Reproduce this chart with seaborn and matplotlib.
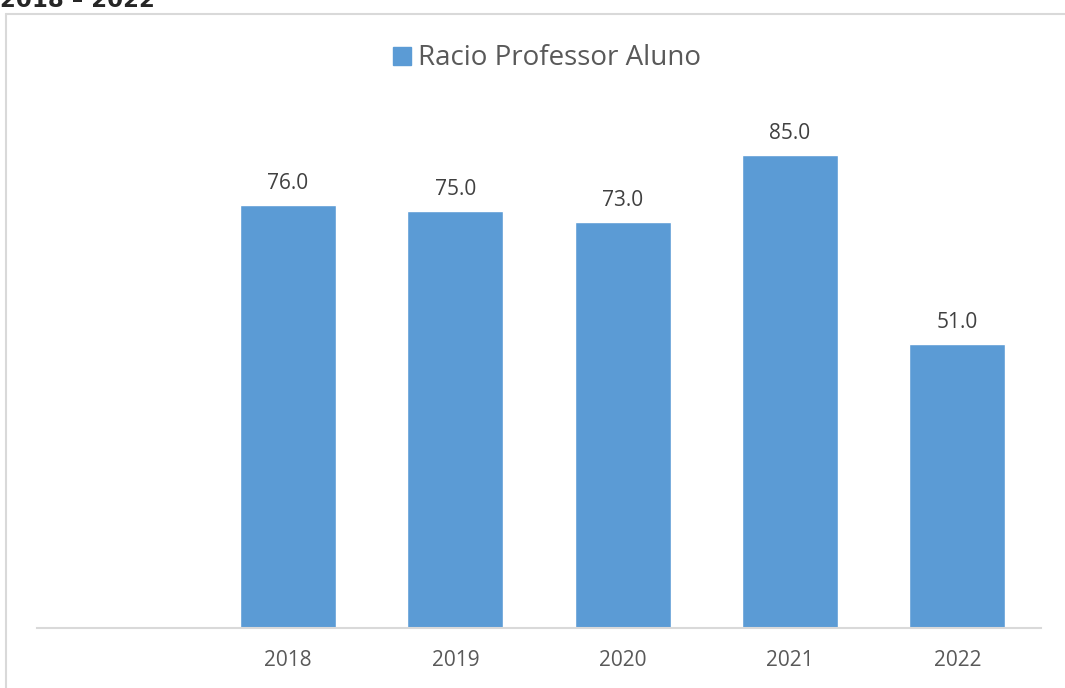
import pandas as pd
import numpy as np
import seaborn as sns
import matplotlib.pyplot as plt
from matplotlib.patches import Rectangle
from matplotlib.lines import Line2D

years = ["", "2018", "2019", "2020", "2021", "2022"]
racio = [np.nan, 76.0, 75.0, 73.0, 85.0, 51.0]
serie = "Racio Professor Aluno"

df = pd.DataFrame({"ano": years, "valor": racio, "serie": serie})

sns.set_style("white")
plt.rcParams["font.family"] = ["Open Sans", "DejaVu Sans"]

fig = plt.figure(figsize=(10.65, 6.88), dpi=100)
W, H = 1065, 688
ax = fig.add_axes([37 / W, (H - 628) / H, (1041 - 37) / W, (628 - 71.5) / H])

sns.barplot(data=df, x="ano", y="valor", hue="serie", order=years,
            palette=["#5B9BD5"], width=0.575, saturation=1, ax=ax, legend=False)

ax.set_ylim(0, 100)
ax.set_xlim(-0.5, len(years) - 0.5)
for c in ax.containers:
    ax.bar_label(c, fmt="%.1f", padding=8, fontsize=15, color="#404040")

for s in ["top", "right", "left"]:
    ax.spines[s].set_visible(False)
ax.spines["bottom"].set_color("#d9d9d9")
ax.spines["bottom"].set_linewidth(1.5)
ax.set_yticks([])
ax.set_xlabel("")
ax.set_ylabel("")
ax.tick_params(axis="x", length=0, pad=16, labelsize=15, labelcolor="#595959")

# legenda
fig.patches.append(Rectangle((393 / W, 1 - 65 / H), 18 / W, 18 / H,
                             transform=fig.transFigure, color="#5B9BD5"))
fig.text(418 / W, 1 - 58 / H, serie, fontsize=20, color="#595959", va="center")

# moldura do gráfico (só topo e esquerda visíveis)
y0 = 1 - 14 / H
x0 = 6 / W
fig.lines.append(Line2D([x0, 1.0], [y0, y0], transform=fig.transFigure,
                        color="#d9d9d9", lw=1.5))
fig.lines.append(Line2D([x0, x0], [y0, 0.0], transform=fig.transFigure,
                        color="#d9d9d9", lw=1.5))

# título cortado no topo
fig.text(0, 1 - 7 / H, "2018 – 2022", fontsize=16.5, fontweight="bold",
         family="DejaVu Sans", va="baseline", ha="left")

fig.savefig("out.png", dpi=100)
